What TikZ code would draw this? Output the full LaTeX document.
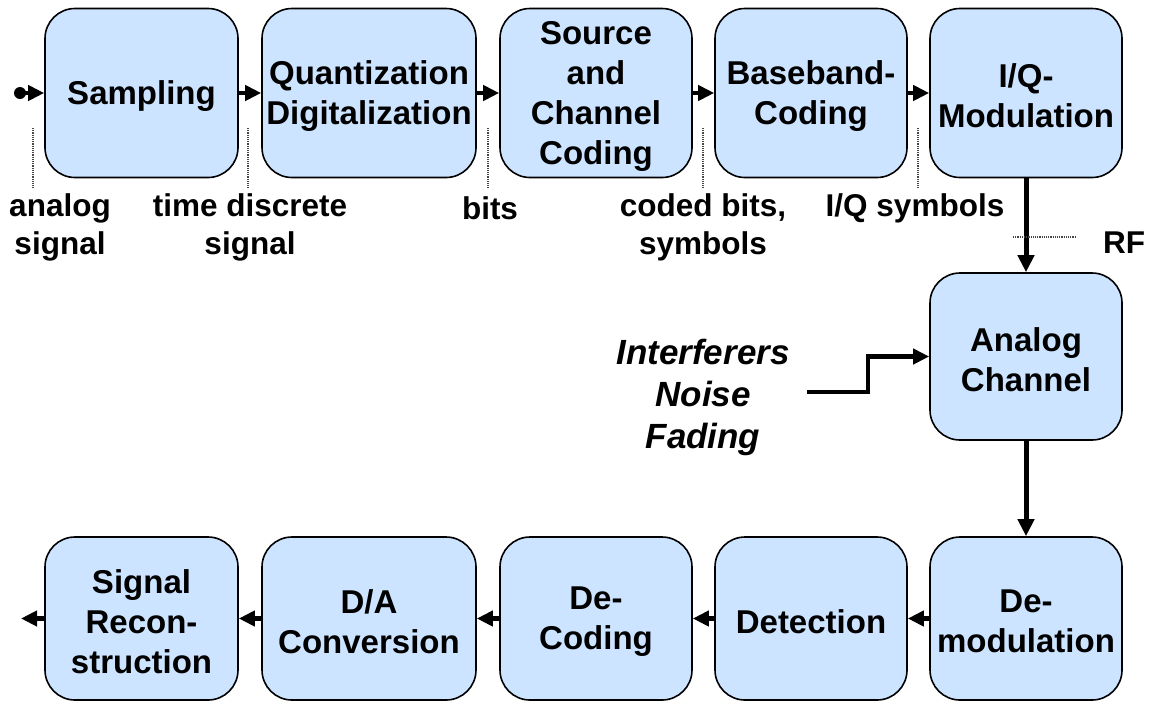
\documentclass[tikz,border=0pt]{standalone}
\usepackage{fontspec}
\setmainfont{Liberation Sans}
\usetikzlibrary{arrows.meta}
\definecolor{boxblue}{RGB}{204,228,255}
\definecolor{dotgray}{RGB}{70,70,70}
\tikzset{
  blk/.style={draw=black, line width=1.6pt, fill=boxblue, rounded corners=30pt,
    minimum height=169pt, inner sep=0pt},
  blktext/.style={align=center, inner sep=0pt, font=\fontsize{33}{40}\selectfont\bfseries},
  arr/.style={line width=4.4pt, -{Triangle[length=16pt,width=15pt]}},
  varr/.style={line width=5pt, -{Triangle[length=17pt,width=16pt]}},
  dotline/.style={draw=dotgray, line width=1.5pt, dash pattern=on 1.2pt off 1pt},
  lbl/.style={align=center, inner sep=0pt, font=\fontsize{31.5}{38}\selectfont\bfseries},
}
\newcommand{\myblock}[6]{%
  \node[blk, minimum width=#4pt, minimum height=#5pt] (#1) at (#2,#3) {};
  \node[blktext] (#1t) at ([yshift=-3pt]#1.center) {#6};
}
\begin{document}
\begin{tikzpicture}[x=1pt,y=-1pt]
\useasboundingbox (0,0) rectangle (1156,702);
% top row
\myblock{samp}{141.5}{93}{193}{169}{Sampling}
\myblock{quant}{369}{93}{214}{169}{Quantization\\Digitalization}
\myblock{src}{596}{93}{192}{169}{Source\\and\\Channel\\Coding}
\myblock{bb}{811}{93}{192}{169}{Baseband-\\Coding}
\myblock{iq}{1026}{93}{192}{169}{I/Q-\\Modulation}
% channel
\myblock{ach}{1026}{356.5}{192}{167}{Analog\\Channel}
% bottom row
\myblock{demod}{1026}{618.5}{192}{163}{De-\\modulation}
\myblock{det}{811}{618.5}{192}{163}{Detection}
\myblock{dec}{596}{618.5}{192}{163}{De-\\Coding}
\myblock{da}{369}{618.5}{214}{163}{D/A\\Conversion}
\myblock{sig}{141.5}{618.5}{193}{163}{Signal\\Recon-\\struction}
% input / output
\coordinate (in) at (20,93);
\coordinate (out) at (21,618.5);
\fill (in) circle (6pt);
\draw[arr] (in) -- (samp.west);
\draw[arr] (samp.east) -- (quant.west);
\draw[arr] (quant.east) -- (src.west);
\draw[arr] (src.east) -- (bb.west);
\draw[arr] (bb.east) -- (iq.west);
\draw[varr] (iq.south) -- (ach.north);
\draw[varr] (ach.south) -- (demod.north);
\draw[arr] (demod.west) -- (det.east);
\draw[arr] (det.west) -- (dec.east);
\draw[arr] (dec.west) -- (da.east);
\draw[arr] (da.west) -- (sig.east);
\draw[arr] (sig.west) -- (out);
% interferers
\node[align=center, inner sep=0pt, font=\fontsize{35}{42}\selectfont\bfseries\itshape] (intf) at (703,397) {Interferers\\Noise\\Fading};
\coordinate (nz) at (807,392);
\draw[arr] (nz) -- ++(61,0) |- (ach.west);
% dotted markers
\draw[dotline] (33,128) -- (33,188);
\draw[dotline] (248,128) -- (248,188);
\draw[dotline] (488,128) -- (488,188);
\draw[dotline] (703,128) -- (703,188);
\draw[dotline] (918,128) -- (918,188);
\draw[dotline] (1013,237) -- (1075,237);
% labels
\node[lbl] (l1) at (60,227) {analog\\signal};
\node[lbl] (l2) at (250,227) {time discrete\\signal};
\node[lbl] (l3) at (490,208) {bits};
\node[lbl] (l4) at (703,227) {coded bits,\\symbols};
\node[lbl] (l5) at (915,208) {I/Q symbols};
\node[lbl] (l6) at (1124,243) {RF};
\end{tikzpicture}
\end{document}
